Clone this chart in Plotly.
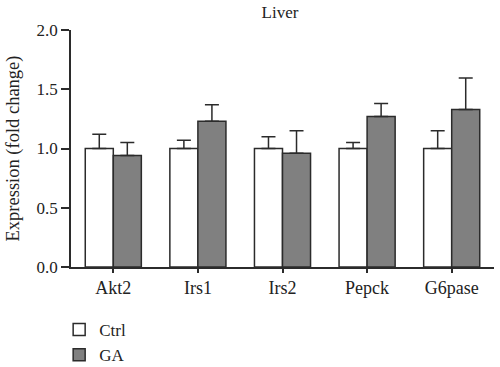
import plotly.graph_objects as go

categories = ["Akt2", "Irs1", "Irs2", "Pepck", "G6pase"]
ctrl_values = [1.0, 1.0, 1.0, 1.0, 1.0]
ctrl_errors = [0.12, 0.07, 0.10, 0.05, 0.15]
ga_values = [0.94, 1.23, 0.96, 1.27, 1.33]
ga_errors = [0.11, 0.14, 0.19, 0.11, 0.265]
y_ticks = [0.0, 0.5, 1.0, 1.5, 2.0]

FONT = "Liberation Serif"
DARK = "#2b2b2b"

fig = go.Figure()
fig.add_trace(go.Bar(
    name="Ctrl", x=categories, y=ctrl_values,
    marker=dict(color="white", line=dict(color=DARK, width=1.5)),
    error_y=dict(type="data", array=ctrl_errors, arrayminus=[0]*len(ctrl_errors),
                 symmetric=False, color=DARK, thickness=1.5, width=7),
))
fig.add_trace(go.Bar(
    name="GA", x=categories, y=ga_values,
    marker=dict(color="#808080", line=dict(color=DARK, width=1.5)),
    error_y=dict(type="data", array=ga_errors, arrayminus=[0]*len(ga_errors),
                 symmetric=False, color=DARK, thickness=1.5, width=7),
))

fig.update_layout(
    width=500, height=367,
    margin=dict(l=71, r=6, t=30, b=100, autoexpand=False),
    paper_bgcolor="white", plot_bgcolor="white",
    barmode="group", bargap=0.337, bargroupgap=0,
    font=dict(family=FONT, size=16, color="#222"),
    title=dict(text="Liver", x=0.56, xanchor="center", y=0.968, yanchor="middle",
               font=dict(family=FONT, size=17, color="#222")),
    showlegend=True,
    legend=dict(x=-0.028, xanchor="left", y=-0.19, yanchor="top",
                orientation="v", font=dict(family=FONT, size=17, color="#222"),
                tracegroupgap=0, itemwidth=30, bgcolor="rgba(0,0,0,0)"),
    xaxis=dict(range=[-0.5, 4.5], showline=True, linecolor=DARK, linewidth=1.5,
               ticks="outside", ticklen=4, tickcolor=DARK, tickwidth=1.5,
               tickfont=dict(family=FONT, size=18, color="#222"),
               showgrid=False, zeroline=False),
    yaxis=dict(range=[0, 2.0], tickvals=y_ticks, ticktext=[f"{v:.1f}" for v in y_ticks],
               showline=True, linecolor=DARK, linewidth=1.5,
               ticks="outside", ticklen=8, tickcolor=DARK, tickwidth=1.5,
               tickfont=dict(family=FONT, size=17, color="#222"),
               title=dict(text="Expression (fold change)", standoff=12,
                          font=dict(family=FONT, size=18.5, color="#222")),
               showgrid=False, zeroline=False),
)

fig.write_html("out.html", config={"displayModeBar": False},
               post_script="document.body.style.margin='0';")
